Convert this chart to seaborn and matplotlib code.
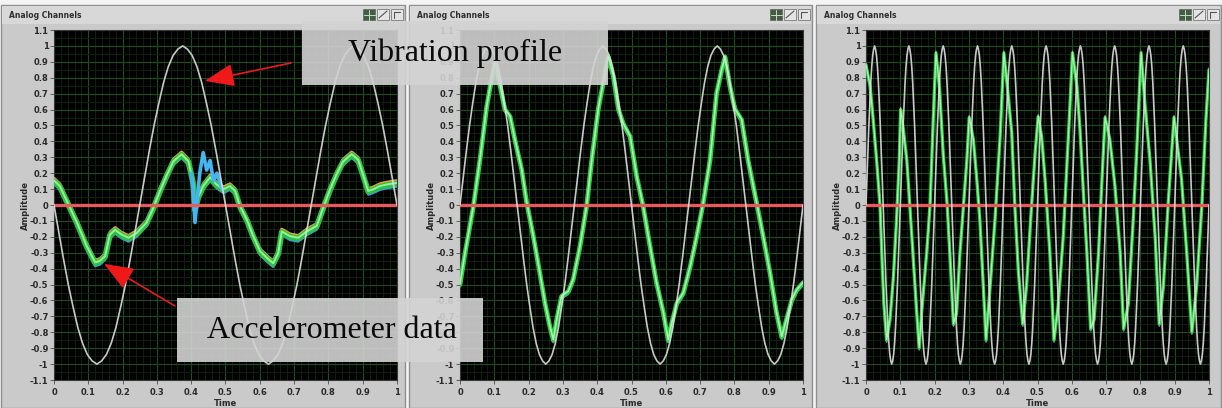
import numpy as np
import matplotlib
matplotlib.use("Agg")
import matplotlib.pyplot as plt
import seaborn as sns
from matplotlib.patches import Rectangle
from matplotlib.ticker import MultipleLocator

# ---------------- data ----------------
# one cycle of the commanded vibration profile (amplitude 1), 10 degree steps
profile_cycle = [0.0, 0.17, 0.34, 0.5, 0.64, 0.77, 0.87, 0.94, 0.98,
                 1.0, 0.98, 0.94, 0.87, 0.77, 0.64, 0.5, 0.34, 0.17,
                 0.0, -0.17, -0.34, -0.5, -0.64, -0.77, -0.87, -0.94, -0.98,
                 -1.0, -0.98, -0.94, -0.87, -0.77, -0.64, -0.5, -0.34, -0.17]
profile_cycles = [2, 3, 10]
profile_sign = [-1, 1, 1]

# accelerometer response, test 1 (2 cycles)
acc1_t = [0, 0.017, 0.042, 0.066, 0.095, 0.12, 0.134, 0.149, 0.163, 0.178,
          0.197, 0.217, 0.241, 0.27, 0.29, 0.309, 0.328, 0.348, 0.372, 0.392,
          0.406, 0.411, 0.421, 0.435, 0.455, 0.474, 0.494, 0.513, 0.528, 0.542,
          0.562, 0.581, 0.601, 0.625, 0.639, 0.654, 0.664, 0.688, 0.712, 0.737,
          0.766, 0.785, 0.805, 0.824, 0.843, 0.868, 0.887, 0.902, 0.916, 0.931,
          0.95, 0.97, 1.0]
acc1_v = [0.15, 0.115, 0.0, -0.11, -0.26, -0.365, -0.355, -0.325, -0.19, -0.16,
          -0.19, -0.21, -0.18, -0.115, -0.02, 0.085, 0.18, 0.27, 0.315, 0.27,
          0.135, -0.03, 0.05, 0.115, 0.17, 0.125, 0.095, 0.115, 0.085, -0.01,
          -0.095, -0.2, -0.295, -0.345, -0.37, -0.305, -0.17, -0.2, -0.21, -0.17,
          -0.135, -0.02, 0.095, 0.19, 0.27, 0.315, 0.28, 0.18, 0.085, 0.095,
          0.115, 0.125, 0.135]
# second channel burst around the direction change in test 1
burst1_t = [0.40, 0.405, 0.411, 0.418, 0.425, 0.435, 0.445, 0.455, 0.465, 0.475, 0.49]
burst1_v = [0.2, 0.1, -0.11, 0.05, 0.2, 0.33, 0.22, 0.28, 0.15, 0.2, 0.1]

# accelerometer response, test 2 (3 cycles)
acc2_t = [0, 0.015, 0.039, 0.058, 0.078, 0.092, 0.102, 0.117, 0.131, 0.146,
          0.16, 0.18, 0.194, 0.214, 0.228, 0.248, 0.262, 0.272, 0.282, 0.296,
          0.316, 0.33, 0.35, 0.369, 0.384, 0.403, 0.423, 0.432, 0.447, 0.462,
          0.476, 0.496, 0.515, 0.534, 0.554, 0.573, 0.593, 0.607, 0.617, 0.632,
          0.651, 0.671, 0.69, 0.709, 0.729, 0.748, 0.763, 0.773, 0.787, 0.802,
          0.821, 0.84, 0.865, 0.884, 0.904, 0.923, 0.938, 0.952, 0.967, 0.982, 1.0]
acc2_v = [-0.5, -0.3, -0.01, 0.28, 0.62, 0.79, 0.9, 0.745, 0.6, 0.555,
          0.41, 0.22, 0.02, -0.2, -0.37, -0.62, -0.765, -0.85, -0.72, -0.575,
          -0.545, -0.47, -0.26, -0.01, 0.28, 0.6, 0.83, 0.93, 0.81, 0.6,
          0.51, 0.43, 0.18, -0.01, -0.26, -0.49, -0.68, -0.85, -0.745, -0.62,
          -0.555, -0.39, -0.2, 0.01, 0.28, 0.7, 0.85, 0.93, 0.745, 0.6,
          0.535, 0.28, 0.01, -0.2, -0.43, -0.68, -0.83, -0.72, -0.6, -0.535, -0.49]

# accelerometer response, test 3 (10 cycles)
acc3_t = [0, 0.012, 0.021, 0.031, 0.041, 0.046, 0.052, 0.06, 0.07, 0.08,
          0.089, 0.097, 0.101, 0.109, 0.119, 0.128, 0.138, 0.148, 0.155, 0.162,
          0.177, 0.187, 0.196, 0.204, 0.214, 0.225, 0.237, 0.247, 0.255, 0.264,
          0.274, 0.284, 0.294, 0.301, 0.313, 0.323, 0.332, 0.342, 0.35, 0.362,
          0.376, 0.391, 0.402, 0.412, 0.425, 0.434, 0.444, 0.457, 0.468, 0.48,
          0.493, 0.502, 0.512, 0.522, 0.536, 0.548, 0.56, 0.575, 0.585, 0.595,
          0.602, 0.615, 0.624, 0.634, 0.644, 0.655, 0.665, 0.678, 0.687, 0.697,
          0.711, 0.726, 0.741, 0.751, 0.765, 0.779, 0.789, 0.802, 0.813, 0.828,
          0.843, 0.855, 0.867, 0.881, 0.898, 0.92, 0.935, 0.95, 0.964, 0.979,
          0.991, 1.0]
acc3_v = [0.88, 0.745, 0.535, 0.28, -0.01, -0.3, -0.62, -0.85, -0.72, -0.45,
          -0.095, 0.28, 0.6, 0.47, 0.28, -0.01, -0.345, -0.68, -0.9, -0.68,
          -0.3, 0.01, 0.535, 0.955, 0.745, 0.325, -0.01, -0.41, -0.75, -0.68,
          -0.3, -0.01, 0.28, 0.55, 0.41, 0.16, -0.095, -0.51, -0.85, -0.51,
          -0.095, 0.43, 0.955, 0.745, 0.45, -0.01, -0.41, -0.75, -0.51, -0.095,
          0.325, 0.555, 0.43, 0.16, -0.3, -0.85, -0.64, -0.2, 0.22, 0.64,
          0.955, 0.745, 0.47, 0.07, -0.3, -0.78, -0.72, -0.3, 0.115, 0.55,
          0.41, 0.115, -0.3, -0.78, -0.62, -0.095, 0.325, 0.955, 0.64, 0.28,
          -0.2, -0.75, -0.51, 0.01, 0.55, 0.16, -0.3, -0.8, -0.51, -0.01,
          0.535, 0.85]

# idle channel sitting at zero
idle_t = [0.0, 1.0]
idle_v = [0.0, 0.0]

y_ticks = [1.1, 1.0, 0.9, 0.8, 0.7, 0.6, 0.5, 0.4, 0.3, 0.2, 0.1, 0.0,
           -0.1, -0.2, -0.3, -0.4, -0.5, -0.6, -0.7, -0.8, -0.9, -1.0, -1.1]
y_labels = ["1.1", "1", "0.9", "0.8", "0.7", "0.6", "0.5", "0.4", "0.3", "0.2", "0.1", "0",
            "-0.1", "-0.2", "-0.3", "-0.4", "-0.5", "-0.6", "-0.7", "-0.8", "-0.9", "-1", "-1.1"]
x_ticks = [0.0, 0.1, 0.2, 0.3, 0.4, 0.5, 0.6, 0.7, 0.8, 0.9, 1.0]
x_labels = ["0", "0.1", "0.2", "0.3", "0.4", "0.5", "0.6", "0.7", "0.8", "0.9", "1"]

acc_t = [acc1_t, acc2_t, acc3_t]
acc_v = [acc1_v, acc2_v, acc3_v]

# ---------------- style ----------------
sns.set_theme(style="dark")
plt.rcParams["font.family"] = ["DejaVu Sans"]

W, H = 1222, 408
fig = plt.figure(figsize=(W / 100, H / 100), dpi=100, facecolor="#f4f4f4")

# front-panel frames
bg = fig.add_axes([0, 0, 1, 1], zorder=0)
bg.set_xlim(0, W)
bg.set_ylim(H, 0)
bg.axis("off")
frames = [(1, 405), (409, 812), (816, 1221)]
for x0, x1 in frames:
    bg.add_patch(Rectangle((x0, 5), x1 - x0, H - 5, facecolor="#cacaca",
                           edgecolor="#8f8f8f", lw=1.0))
    bg.add_patch(Rectangle((x0 + 1, 6), x1 - x0 - 2, 18, facecolor="#d8d8d8",
                           edgecolor="none"))
    bg.text(x0 + 8, 15.5, "Analog Channels", fontsize=5.5, fontweight="bold",
            color="#2e2e2e", va="center", ha="left")
    # graph palette buttons
    bx = x1 - 42
    bg.add_patch(Rectangle((bx, 9), 12, 11, facecolor="#3f5f3f", edgecolor="#6a6a6a", lw=0.6))
    bg.plot([bx + 6, bx + 6], [9.5, 19.5], color="#c8d8c8", lw=0.7)
    bg.plot([bx + 0.5, bx + 11.5], [14.5, 14.5], color="#c8d8c8", lw=0.7)
    bg.add_patch(Rectangle((bx + 14, 9), 12, 11, facecolor="#e4e4e4", edgecolor="#7a7a7a", lw=0.6))
    bg.plot([bx + 16, bx + 24], [18, 11], color="#555555", lw=0.8)
    bg.add_patch(Rectangle((bx + 28, 9), 12, 11, facecolor="#e4e4e4", edgecolor="#7a7a7a", lw=0.6))
    bg.plot([bx + 31, bx + 31, bx + 37], [18, 12, 12], color="#555555", lw=0.8)

plot_left = [54, 460, 866]
PLOT_W, PLOT_TOP, PLOT_BOT = 343, 30, 380

band_styles = [
    # (color, linewidth, vertical spread)
    [("#f0a030", 2.2, 0.018), ("#3a9be6", 1.6, -0.02), ("#2ec042", 4.2, 0.0), ("#96f296", 1.4, 0.004)],
    [("#3a9be6", 1.4, -0.014), ("#c8e040", 1.0, 0.012), ("#30cc44", 3.4, 0.0), ("#a6f7ae", 1.2, 0.004)],
    [("#3a9be6", 1.0, -0.012), ("#c8e040", 0.8, 0.012), ("#30cc44", 2.4, 0.0), ("#a6f7ae", 0.9, 0.004)],
]

axes = []
for i in range(3):
    ax = fig.add_axes([plot_left[i] / W, (H - PLOT_BOT) / H, PLOT_W / W,
                       (PLOT_BOT - PLOT_TOP) / H], zorder=1)
    ax.set_facecolor("#000000")
    axes.append(ax)

    # accelerometer channels
    t = np.asarray(acc_t[i])
    v = np.asarray(acc_v[i])
    for color, lw, spread in band_styles[i]:
        sns.lineplot(x=t, y=v + spread, ax=ax, color=color, linewidth=lw,
                     estimator=None, sort=False, legend=False, zorder=3)
    if i == 0:
        sns.lineplot(x=burst1_t, y=burst1_v, ax=ax, color="#45b4f0", linewidth=2.6,
                     estimator=None, sort=False, legend=False, zorder=3)

    # idle channel
    sns.lineplot(x=idle_t, y=idle_v, ax=ax, color="#e85a5a", linewidth=2.4,
                 estimator=None, sort=False, legend=False, zorder=4)

    # vibration profile
    prof = np.tile(profile_cycle, profile_cycles[i]) * profile_sign[i]
    prof = np.append(prof, prof[0])
    prof_t = np.linspace(0.0, 1.0, len(prof))
    sns.lineplot(x=prof_t, y=prof, ax=ax, color="#dedede", linewidth=1.2,
                 estimator=None, sort=False, legend=False, zorder=5, alpha=0.9)

    ax.set_xlim(0, 1)
    ax.set_ylim(-1.1, 1.1)
    ax.set_xticks(x_ticks)
    ax.set_xticklabels(x_labels)
    ax.set_yticks(y_ticks)
    ax.set_yticklabels(y_labels)
    ax.xaxis.set_minor_locator(MultipleLocator(0.02))
    ax.yaxis.set_minor_locator(MultipleLocator(0.05))
    ax.grid(which="minor", color="#0e260e", lw=0.6)
    ax.grid(which="major", color="#1d4f1d", lw=0.8)
    ax.set_axisbelow(True)
    ax.tick_params(which="major", bottom=True, left=True, direction="out", length=3,
                   width=0.6, color="#505050", labelsize=6, labelcolor="#2a2a2a", pad=1)
    ax.tick_params(which="minor", bottom=False, left=False, length=0)
    ax.tick_params(axis="x", pad=3)
    for lbl in ax.get_xticklabels() + ax.get_yticklabels():
        lbl.set_fontweight("bold")
    ax.set_xlabel("Time", fontsize=6, fontweight="bold", color="#2a2a2a")
    ax.set_ylabel("Amplitude", fontsize=6, fontweight="bold", color="#2a2a2a")
    ax.xaxis.set_label_coords(0.5, -19 / 350)
    ax.yaxis.set_label_coords(-24 / 343, 0.5)
    for sp in ax.spines.values():
        sp.set_color("#3a3a3a")
        sp.set_linewidth(0.8)

# callouts
ov = fig.add_axes([0, 0, 1, 1], zorder=10)
ov.set_xlim(0, W)
ov.set_ylim(H, 0)
ov.axis("off")
ov.patch.set_visible(False)

ov.add_patch(Rectangle((302, 21), 306, 64, facecolor="#d3d3d3", alpha=0.9, lw=0))
ov.text(455, 61, "Vibration profile", fontsize=23, family="Liberation Serif",
        ha="center", va="baseline", color="#0a0a0a")
ov.add_patch(Rectangle((177, 298), 306, 64, facecolor="#d3d3d3", alpha=0.9, lw=0))
ov.text(332, 338, "Accelerometer data", fontsize=23, family="Liberation Serif",
        ha="center", va="baseline", color="#0a0a0a")

arrow = dict(arrowstyle="-|>,head_length=1.4,head_width=0.55", color="#ee1a1a",
             lw=1.2, mutation_scale=13, shrinkA=0, shrinkB=0)
ov.annotate("", xy=(0.44, 0.78), xycoords=axes[0].transData,
            xytext=(291, 63), textcoords="data", arrowprops=arrow)
ov.annotate("", xy=(0.146, -0.37), xycoords=axes[0].transData,
            xytext=(175, 306), textcoords="data", arrowprops=arrow)

fig.savefig("out.png", dpi=100, facecolor=fig.get_facecolor())
